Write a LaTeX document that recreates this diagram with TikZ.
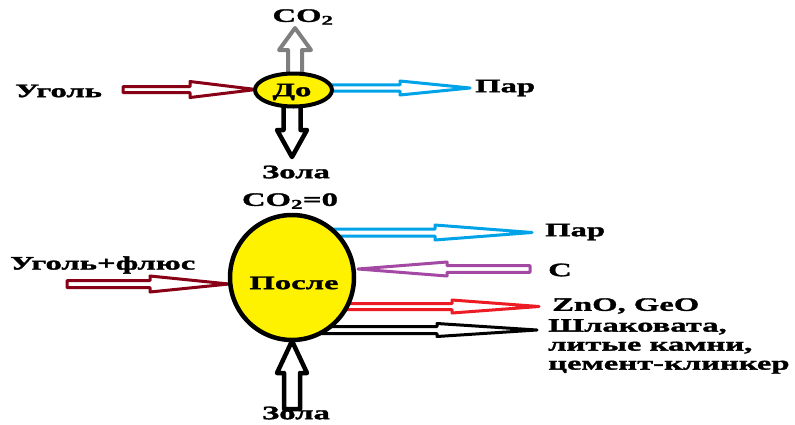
\documentclass[tikz,border=0pt]{standalone}
\usepackage{fontspec}
\setmainfont{Liberation Serif}[FakeStretch=1.72, FakeBold=1.6]
\usetikzlibrary{calc,shapes.geometric}

\definecolor{pdarkred}{HTML}{880015}
\definecolor{pcyan}{HTML}{00A2E8}
\definecolor{ppurple}{HTML}{A349A4}
\definecolor{pred}{HTML}{ED1C24}
\definecolor{pgray}{HTML}{7F7F7F}
\definecolor{pyellow}{HTML}{FFF200}

% hollow block arrow: colour, line width, tail, tip, shaft half width, head half width, head length
\newcommand\hollowarrow[7]{%
  \path ($(#4)!#7!(#3)$) coordinate (ha-base);
  \draw[blockarrow, draw=#1, line width=#2]
    ($(#3)!#5!90:(#4)$) -- ($(ha-base)!#5!90:(#4)$) -- ($(ha-base)!#6!90:(#4)$)
    -- (#4)
    -- ($(ha-base)!#6!-90:(#4)$) -- ($(ha-base)!#5!-90:(#4)$) -- ($(#3)!#5!-90:(#4)$) -- cycle;
}

\begin{document}
\begin{tikzpicture}[x=1pt, y=-1pt,
  blockarrow/.style={fill=white, line join=round},
  vessel/.style={ellipse, draw=black, fill=pyellow, inner sep=0pt},
  lbl/.style={font=\fontsize{19}{19}\selectfont\bfseries, inner sep=0pt, text=black}]
\useasboundingbox (0,0) rectangle (795,424);

% ---------- before ----------
\coordinate (ugol-tail) at (123,89.5);
\coordinate (ugol-tip)  at (256,89.5);
\coordinate (par1-tail) at (325,88);
\coordinate (par1-tip)  at (470,88);
\coordinate (co2-tail)  at (295,80);
\coordinate (co2-tip)   at (295,28);
\coordinate (zola1-tail) at (292,100);
\coordinate (zola1-tip)  at (292,157);

\hollowarrow{pdarkred}{3pt}{ugol-tail}{ugol-tip}{3pt}{8pt}{66pt}
\hollowarrow{pcyan}{3pt}{par1-tail}{par1-tip}{3.2pt}{7pt}{70pt}
\hollowarrow{pgray}{4pt}{co2-tail}{co2-tip}{7pt}{16pt}{22pt}
\hollowarrow{black}{4.5pt}{zola1-tail}{zola1-tip}{8.5pt}{15pt}{27pt}

\node[vessel, line width=4pt, minimum width=77pt, minimum height=33pt] (before) at (293.5,90) {};
\node[lbl] (before-t) at (292,92) {До};

\node[lbl, anchor=west] (ugol) at (15,91) {Уголь};
\node[lbl, anchor=west] (par1) at (475,88) {Пар};
\node[lbl] (co2) at (303,17) {CO\textsubscript{2}};
\node[lbl] (zola1) at (296,172) {Зола};

% ---------- after ----------
\coordinate (flux-tail) at (67,284);
\coordinate (flux-tip)  at (229,284);
\coordinate (par2-tail) at (330,232.5);
\coordinate (par2-tip)  at (532,232.5);
\coordinate (c-tail)    at (530,269);
\coordinate (c-tip)     at (358,269);
\coordinate (zn-tail)   at (345,306.5);
\coordinate (zn-tip)    at (539,306.5);
\coordinate (slag-tail) at (322,330);
\coordinate (slag-tip)  at (537,330);
\coordinate (zola2-tail) at (292,409);
\coordinate (zola2-tip)  at (292,341);

\hollowarrow{pdarkred}{3pt}{flux-tail}{flux-tip}{3.5pt}{8pt}{79pt}
\hollowarrow{pcyan}{3pt}{par2-tail}{par2-tip}{3.5pt}{7.5pt}{97pt}
\hollowarrow{ppurple}{3pt}{c-tail}{c-tip}{3.3pt}{7pt}{89pt}
\hollowarrow{pred}{3pt}{zn-tail}{zn-tip}{3pt}{6.5pt}{87pt}
\hollowarrow{black}{3pt}{slag-tail}{slag-tip}{3.5pt}{6.5pt}{100pt}
\hollowarrow{black}{4.5pt}{zola2-tail}{zola2-tip}{8pt}{15pt}{32pt}

\node[vessel, line width=4.5pt, minimum width=124pt, minimum height=125pt] (after) at (292,277.5) {};
\node[lbl] (after-t) at (294,283) {После};

\node[lbl] (co2zero) at (290,201) {CO\textsubscript{2}=0};
\node[lbl, anchor=west] (flux) at (10,265) {Уголь+флюс};
\node[lbl, anchor=west] (par2) at (545,232) {Пар};
\node[lbl, anchor=west] (carbon) at (548,270) {С};
\node[lbl, anchor=west] (zn) at (552,306) {ZnO, GeO};
\node[lbl, anchor=north west, align=left] (slag) at (548,319) {Шлаковата,\\литые камни,\\цемент-клинкер};
\node[lbl] (zola2) at (296,413) {Зола};
\end{tikzpicture}
\end{document}
